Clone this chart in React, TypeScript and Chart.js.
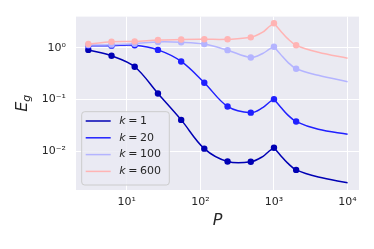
import { useEffect, useRef } from "react";
import { Chart, registerables } from "chart.js";

Chart.register(...registerables);

// ---- data ----
const P_MARK = [3, 6.2, 12.8, 26.5, 54.8, 113, 234, 484, 1000, 2000];
const K1_MARK = [0.91, 0.70, 0.43, 0.131, 0.0406, 0.0113, 0.00638, 0.0063, 0.0118, 0.0044];
const K20_MARK = [1.10, 1.10, 1.12, 0.91, 0.545, 0.212, 0.0738, 0.056, 0.102, 0.0377];
const K100_MARK = [1.13, 1.15, 1.2, 1.3, 1.28, 1.18, 0.90, 0.65, 1.05, 0.394];
const K600_MARK = [1.18, 1.31, 1.33, 1.41, 1.45, 1.46, 1.46, 1.59, 2.98, 1.12];

const P_LINE = [3, 6.2, 12.8, 26.5, 54.8, 113, 234, 484, 703, 864, 1000, 1245, 1535, 2000, 4000, 10000];
const K1_LINE = [0.91, 0.70, 0.43, 0.131, 0.0406, 0.0113, 0.00638, 0.0063, 0.00796, 0.0102, 0.0118, 0.0082, 0.00593, 0.0044, 0.0032, 0.00249];
const K20_LINE = [1.10, 1.10, 1.12, 0.91, 0.545, 0.212, 0.0738, 0.056, 0.070, 0.089, 0.102, 0.0706, 0.0508, 0.0377, 0.0268, 0.0215];
const K100_LINE = [1.13, 1.15, 1.2, 1.3, 1.28, 1.18, 0.90, 0.65, 0.776, 0.94, 1.05, 0.73, 0.53, 0.394, 0.294, 0.222];
const K600_LINE = [1.18, 1.31, 1.33, 1.41, 1.45, 1.46, 1.46, 1.59, 2.0, 2.58, 2.98, 2.07, 1.5, 1.12, 0.82, 0.63];

const K_LABELS = ["1", "20", "100", "600"];
const COLORS = ["#0000B4", "#2020FF", "#B4B4FF", "#FFB4B4"];
const CUSP_P = 1000;

const X_TICKS = [10, 100, 1000, 10000];
const Y_TICKS = [0.01, 0.1, 1];
const X_MIN = 2.04;
const X_MAX = 14300;
const Y_MIN = 0.0018;
const Y_MAX = 4.0;

const X_TITLE = "P";
const Y_TITLE_MAIN = "E";
const Y_TITLE_SUB = "g";

const TEXT = "#262626";
const FONT = "'DejaVu Sans'";

const SUP: Record<string, string> = { "-": "⁻", "0": "⁰", "1": "¹", "2": "²", "3": "³", "4": "⁴", "5": "⁵", "6": "⁶", "7": "⁷", "8": "⁸", "9": "⁹" };
const pow10Label = (v: number) => {
  const e = Math.round(Math.log10(v));
  return "10" + String(e).split("").map((c) => SUP[c] || c).join("");
};

const bgPlugin = {
  id: "bg",
  beforeDraw(chart: any) {
    const { ctx, chartArea: a } = chart;
    ctx.save();
    ctx.fillStyle = "#ffffff";
    ctx.fillRect(0, 0, chart.width, chart.height);
    ctx.fillStyle = "#EAEAF2";
    ctx.fillRect(a.left, a.top, a.right - a.left, a.bottom - a.top);
    ctx.restore();
  },
};

const legendPlugin = {
  id: "mplLegend",
  afterDatasetsDraw(chart: any) {
    const { ctx, chartArea: a } = chart;
    const x0 = a.left + 5.7;
    const w = 87.6;
    const h = 73.3;
    const y0 = a.bottom - 5 - h;
    ctx.save();
    const r = 3;
    ctx.beginPath();
    ctx.moveTo(x0 + r, y0);
    ctx.lineTo(x0 + w - r, y0);
    ctx.arcTo(x0 + w, y0, x0 + w, y0 + r, r);
    ctx.lineTo(x0 + w, y0 + h - r);
    ctx.arcTo(x0 + w, y0 + h, x0 + w - r, y0 + h, r);
    ctx.lineTo(x0 + r, y0 + h);
    ctx.arcTo(x0, y0 + h, x0, y0 + h - r, r);
    ctx.lineTo(x0, y0 + r);
    ctx.arcTo(x0, y0, x0 + r, y0, r);
    ctx.closePath();
    ctx.fillStyle = "rgba(234,234,242,0.8)";
    ctx.fill();
    ctx.strokeStyle = "#CCCCCC";
    ctx.lineWidth = 1;
    ctx.stroke();
    K_LABELS.forEach((lab, i) => {
      const cy = y0 + 9.3 + i * 16.8;
      ctx.strokeStyle = COLORS[i];
      ctx.lineWidth = 1.5;
      ctx.beginPath();
      ctx.moveTo(x0 + 4, cy);
      ctx.lineTo(x0 + 29, cy);
      ctx.stroke();
      ctx.fillStyle = TEXT;
      ctx.textBaseline = "middle";
      ctx.textAlign = "left";
      ctx.font = `italic 11px ${FONT}`;
      const tx = x0 + 37.6;
      ctx.fillText("k", tx, cy);
      const kw = ctx.measureText("k").width;
      ctx.font = `11px ${FONT}`;
      ctx.fillText("=", tx + kw + 2.6, cy);
      const ew = ctx.measureText("=").width;
      ctx.fillText(lab, tx + kw + 2.6 + ew + 2.6, cy);
    });
    ctx.restore();
  },
};

const titlePlugin = {
  id: "axisTitles",
  afterDraw(chart: any) {
    const { ctx, chartArea: a } = chart;
    ctx.save();
    ctx.fillStyle = TEXT;
    ctx.font = `italic 16px ${FONT}`;
    ctx.textAlign = "center";
    ctx.textBaseline = "middle";
    ctx.fillText(X_TITLE, (a.left + a.right) / 2, 221);
    ctx.translate(22, (a.top + a.bottom) / 2);
    ctx.rotate(-Math.PI / 2);
    ctx.font = `italic 16px ${FONT}`;
    const ew = ctx.measureText(Y_TITLE_MAIN).width;
    ctx.font = `italic 11px ${FONT}`;
    const gw = ctx.measureText(Y_TITLE_SUB).width;
    const total = ew + gw;
    ctx.textAlign = "left";
    ctx.textBaseline = "alphabetic";
    ctx.font = `italic 16px ${FONT}`;
    ctx.fillText(Y_TITLE_MAIN, -total / 2, 5);
    ctx.font = `italic 11px ${FONT}`;
    ctx.fillText(Y_TITLE_SUB, -total / 2 + ew, 8);
    ctx.restore();
  },
};

const onlyPowers = (scale: any) => {
  scale.ticks = scale.ticks.filter((t: any) => {
    const l = Math.log10(t.value);
    return Math.abs(l - Math.round(l)) < 1e-9;
  });
};

export default function App() {
  const ref = useRef<HTMLCanvasElement>(null);
  useEffect(() => {
    if (!ref.current) return;
    const series = [
      [K1_MARK, K1_LINE],
      [K20_MARK, K20_LINE],
      [K100_MARK, K100_LINE],
      [K600_MARK, K600_LINE],
    ];
    const datasets: any[] = [];
    series.forEach(([marks, line], i) => {
      const order = 4 - i;
      const pts = P_LINE.map((p, j) => ({ x: p, y: line[j] }));
      const base = {
        borderColor: COLORS[i],
        backgroundColor: COLORS[i],
        borderWidth: 1.5,
        pointRadius: 0,
        tension: 0.35,
        showLine: true,
        order,
      };
      datasets.push({ ...base, label: `k=${K_LABELS[i]}`, data: pts.filter((d) => d.x <= CUSP_P) });
      datasets.push({ ...base, label: `k=${K_LABELS[i]} b`, data: pts.filter((d) => d.x >= CUSP_P) });
      datasets.push({
        label: `k=${K_LABELS[i]} pts`,
        data: P_MARK.map((p, j) => ({ x: p, y: marks[j] })),
        showLine: false,
        pointRadius: 3.2,
        pointBorderWidth: 0,
        pointBackgroundColor: COLORS[i],
        pointBorderColor: COLORS[i],
        order,
      });
    });
    const chart = new Chart(ref.current, {
      type: "scatter",
      data: { datasets },
      options: {
        animation: false,
        responsive: false,
        devicePixelRatio: 1,
        layout: { padding: { left: 0, right: 15, top: 15, bottom: 0 } },
        plugins: { legend: { display: false }, tooltip: { enabled: false } },
        scales: {
          x: {
            type: "logarithmic",
            min: X_MIN,
            max: X_MAX,
            afterBuildTicks: onlyPowers,
            afterFit: (s: any) => { s.height = 59; },
            border: { display: false },
            grid: { color: "#ffffff", lineWidth: 1, drawTicks: false },
            ticks: {
              autoSkip: false,
              maxRotation: 0,
              padding: 6,
              color: TEXT,
              font: { family: "DejaVu Sans", size: 11 },
              callback: (v: any) => (X_TICKS.includes(Number(v)) ? pow10Label(Number(v)) : ""),
            },
          },
          y: {
            type: "logarithmic",
            min: Y_MIN,
            max: Y_MAX,
            afterBuildTicks: onlyPowers,
            afterFit: (s: any) => { s.width = 76; },
            border: { display: false },
            grid: { color: "#ffffff", lineWidth: 1, drawTicks: false },
            ticks: {
              autoSkip: false,
              padding: 10,
              color: TEXT,
              font: { family: "DejaVu Sans", size: 11 },
              callback: (v: any) => (Y_TICKS.some((t) => Math.abs(t - Number(v)) < 1e-12) ? pow10Label(Number(v)) : ""),
            },
          },
        },
      } as any,
      plugins: [bgPlugin, legendPlugin, titlePlugin],
    });
    return () => chart.destroy();
  }, []);
  return (
    <div style={{ position: "fixed", left: 0, top: 0, width: 374, height: 249, background: "#fff" }}>
      <canvas ref={ref} width={374} height={249} style={{ display: "block" }} />
    </div>
  );
}
